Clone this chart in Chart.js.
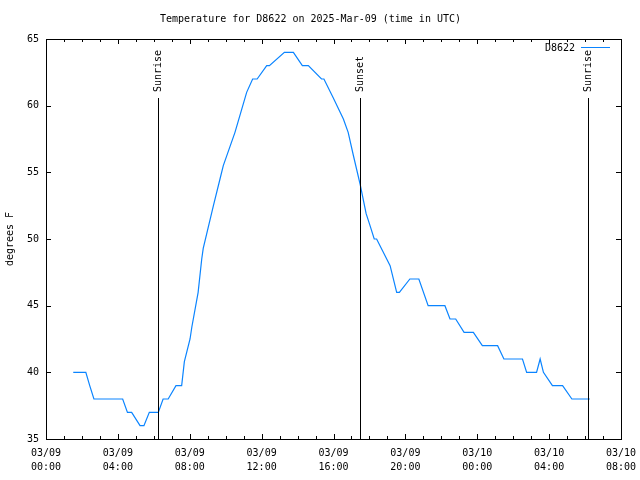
<!DOCTYPE html>
<html>
<head>
<meta charset="utf-8">
<script src="https://cdn.jsdelivr.net/npm/chart.js@4"></script>
<style>
  html, body { margin: 0; padding: 0; background: #fff; }
  #wrap { width: 640px; height: 480px; }
</style>
</head>
<body>
<div id="wrap"><canvas id="tempChart" width="640" height="480"></canvas></div>
<script>
// observation times in minutes after 03/09 00:00 UTC
const obsMinutes = [91,133,146,160,256,272,286,314,327,345,375,391,408,434,453,462,481,487,508,520,525,559,581,592,631,670,690,705,737,746,796,826,856,876,920,928,959,993,1009,1026,1049,1069,1082,1096,1104,1149,1171,1180,1215,1245,1276,1332,1349,1368,1396,1427,1457,1508,1529,1591,1605,1638,1650,1661,1691,1725,1756,1816];
const temps = [40,40,39,38,38,37,37,36,36,37,37,38,38,39,39,40.8,42.5,43.4,46,48.5,49.3,52.5,54.5,55.5,58,61,62,62,63,63,64,64,63,63,62,62,60.6,59,58,56.3,54.1,51.9,51,50,50,48,46,46,47,47,45,45,44,44,43,43,42,42,41,41,40,40,41,40,39,39,38,38];

const yTicks = [35,40,45,50,55,60,65];
const dayLabels = ['03/09','03/10'];

// sun events
const eventNames = ['Sunrise','Sunset','Sunrise'];
const eventMinutes = [375,1048,1810];

const FONT = '"DejaVu Sans Mono", monospace';

const points = obsMinutes.map((m, i) => ({ x: m, y: temps[i] }));

function pad2(n) { return (n < 10 ? '0' : '') + n; }

// box, inward ticks, sun markers and legend (gnuplot look)
const gnuplotDecor = {
    id: 'gnuplotDecor',
    afterDatasetsDraw(chart) {
        const ctx = chart.ctx;
        const a = chart.chartArea;
        const xs = chart.scales.x;
        const ys = chart.scales.y;
        const top = Math.round(a.top);
        const right = Math.round(a.right);
        ctx.save();
        ctx.strokeStyle = '#000';
        ctx.lineWidth = 1;

        // frame
        ctx.strokeRect(Math.round(a.left) + 0.5, top + 0.5,
                       Math.round(a.right - a.left), Math.round(a.bottom - a.top));

        // x ticks, every hour, longer every 4 hours
        ctx.beginPath();
        for (let m = 0; m <= 1920; m += 60) {
            const px = Math.round(xs.getPixelForValue(m)) + 0.5;
            const len = (m % 240 === 0) ? 5 : 3;
            ctx.moveTo(px, a.bottom); ctx.lineTo(px, a.bottom - len);
            ctx.moveTo(px, a.top); ctx.lineTo(px, a.top + len);
        }
        // y ticks
        yTicks.forEach(v => {
            const py = Math.round(ys.getPixelForValue(v)) + 0.5;
            ctx.moveTo(a.left, py); ctx.lineTo(a.left + 5, py);
            ctx.moveTo(a.right, py); ctx.lineTo(a.right - 5, py);
        });
        ctx.stroke();

        // sunrise / sunset lines
        const topY = Math.round(ys.getPixelForValue(60.6));
        ctx.font = '10px ' + FONT;
        ctx.fillStyle = '#000';
        eventMinutes.forEach((m, i) => {
            const px = Math.round(xs.getPixelForValue(m)) + 0.5;
            ctx.beginPath();
            ctx.moveTo(px, topY);
            ctx.lineTo(px, a.bottom);
            ctx.stroke();
            ctx.save();
            ctx.translate(px, topY - 6);
            ctx.rotate(-Math.PI / 2);
            ctx.textAlign = 'left';
            ctx.textBaseline = 'middle';
            ctx.fillText(eventNames[i], 0, 0);
            ctx.restore();
        });

        // legend
        const ds = chart.data.datasets[0];
        ctx.textAlign = 'right';
        ctx.textBaseline = 'middle';
        ctx.fillText(ds.label, right - 46, top + 9);
        ctx.strokeStyle = ds.borderColor;
        ctx.beginPath();
        ctx.moveTo(right - 40, top + 8.5);
        ctx.lineTo(right - 11, top + 8.5);
        ctx.stroke();
        ctx.restore();
    }
};

const chart = new Chart(document.getElementById('tempChart'), {
    type: 'line',
    data: {
        datasets: [{
            label: 'D8622',
            data: points,
            borderColor: '#0a84ff',
            borderWidth: 1.2,
            pointRadius: 0,
            tension: 0,
            fill: false
        }]
    },
    options: {
        responsive: false,
        animation: false,
        layout: { padding: { left: 0, right: 19, top: 0, bottom: 0 } },
        plugins: {
            legend: { display: false },
            tooltip: { enabled: false },
            title: {
                display: true,
                text: 'Temperature for D8622 on 2025-Mar-09 (time in UTC)',
                color: '#000',
                font: { family: FONT, size: 10, weight: 'normal' },
                padding: { top: 13, bottom: 14 }
            }
        },
        scales: {
            x: {
                type: 'linear',
                min: 0,
                max: 1920,
                grid: { display: false, drawTicks: false },
                border: { display: false },
                afterFit: s => { s.height = 41; s.paddingLeft = 0; s.paddingRight = 0; },
                afterBuildTicks: s => {
                    s.ticks = [];
                    for (let m = 0; m <= 1920; m += 240) s.ticks.push({ value: m });
                },
                ticks: {
                    color: '#000',
                    padding: 8,
                    maxRotation: 0,
                    autoSkip: false,
                    font: { family: FONT, size: 10, lineHeight: 1.35 },
                    callback: v => {
                        const day = Math.floor(v / 1440);
                        const h = Math.floor((v % 1440) / 60);
                        return [dayLabels[day], pad2(h) + ':00'];
                    }
                }
            },
            y: {
                min: 35,
                max: 65,
                grid: { display: false, drawTicks: false },
                border: { display: false },
                afterFit: s => { s.width = 46; s.paddingTop = 0; s.paddingBottom = 0; },
                afterBuildTicks: s => { s.ticks = yTicks.map(v => ({ value: v })); },
                title: {
                    display: true,
                    text: 'degrees F',
                    color: '#000',
                    font: { family: FONT, size: 10 },
                    padding: { top: 4, bottom: 4 }
                },
                ticks: {
                    color: '#000',
                    padding: 7,
                    font: { family: FONT, size: 10 }
                }
            }
        }
    },
    plugins: [gnuplotDecor]
});
</script>
</body>
</html>
